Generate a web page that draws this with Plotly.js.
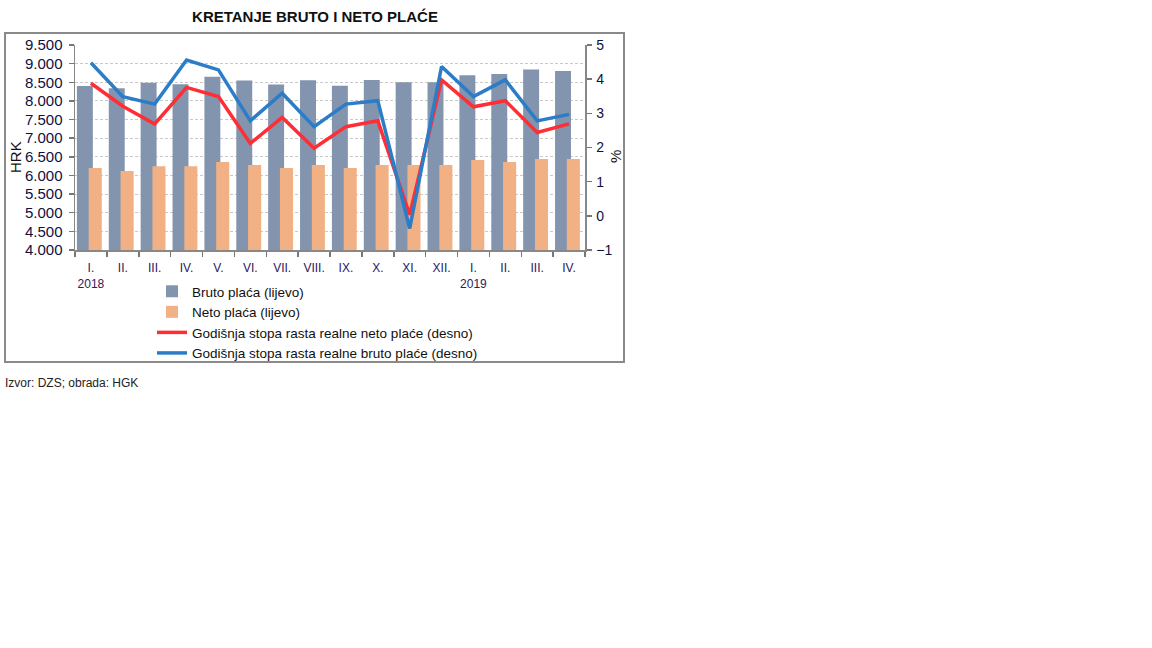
<!DOCTYPE html>
<html>
<head>
<meta charset="utf-8">
<script src="https://cdn.plot.ly/plotly-3.0.1.min.js"></script>
<style>
  html, body { margin: 0; padding: 0; background: #fff; }
  #chart { width: 1152px; height: 648px; }
</style>
</head>
<body>
<div id="chart"></div>
<script>
// ---- data ----
const monthKeys = ['2018-01','2018-02','2018-03','2018-04','2018-05','2018-06','2018-07','2018-08','2018-09','2018-10','2018-11','2018-12','2019-01','2019-02','2019-03','2019-04'];
const monthLabels = ['I.<br>2018','II.','III.','IV.','V.','VI.','VII.','VIII.','IX.','X.','XI.','XII.','I.<br>2019','II.','III.','IV.'];
const brutoPlaca = [8400, 8340, 8490, 8450, 8650, 8550, 8440, 8555, 8410, 8560, 8500, 8500, 8690, 8720, 8845, 8800];
const netoPlaca = [6200, 6120, 6250, 6250, 6360, 6280, 6200, 6280, 6200, 6280, 6280, 6280, 6415, 6360, 6440, 6440];
const stopaNeto = [3.88, 3.21, 2.69, 3.76, 3.49, 2.12, 2.88, 1.98, 2.61, 2.78, 0.03, 3.98, 3.19, 3.37, 2.44, 2.69];
const stopaBruto = [4.48, 3.49, 3.27, 4.56, 4.27, 2.78, 3.59, 2.61, 3.27, 3.37, -0.37, 4.37, 3.49, 3.98, 2.78, 2.97];
const leftTicks = [4000, 4500, 5000, 5500, 6000, 6500, 7000, 7500, 8000, 8500, 9000, 9500];
const rightTicks = [-1, 0, 1, 2, 3, 4, 5];

// ---- geometry helpers (pixels -> paper) ----
const PL = 75, PR = 585, PT = 45, PB = 250;
const px = x => (x - PL) / (PR - PL);
const py = y => (PB - y) / (PB - PT);

const fam = '"Liberation Sans", Arial, sans-serif';

const traces = [
  {
    type: 'bar', name: 'Bruto plaća (lijevo)', x: monthKeys, y: brutoPlaca,
    marker: { color: '#8394ae' }, width: 0.5, offset: -0.44, yaxis: 'y'
  },
  {
    type: 'bar', name: 'Neto plaća (lijevo)', x: monthKeys, y: netoPlaca,
    marker: { color: '#f2b185' }, width: 0.41, offset: -0.07, yaxis: 'y'
  },
  {
    type: 'scatter', mode: 'lines', name: 'Godišnja stopa rasta realne neto plaće (desno)',
    x: monthKeys, y: stopaNeto, yaxis: 'y2',
    line: { color: '#ff2e35', width: 3.5 }
  },
  {
    type: 'scatter', mode: 'lines', name: 'Godišnja stopa rasta realne bruto plaće (desno)',
    x: monthKeys, y: stopaBruto, yaxis: 'y2',
    line: { color: '#2a7dc6', width: 3.5 }
  }
];

const layout = {
  width: 1152, height: 648,
  paper_bgcolor: '#ffffff', plot_bgcolor: 'rgba(0,0,0,0)',
  margin: { l: PL, r: 1152 - PR, t: PT, b: 648 - PB, pad: 0 },
  barmode: 'overlay',
  separators: ',.',
  showlegend: true,
  title: {
    text: '<b>KRETANJE BRUTO I NETO PLAĆE</b>',
    x: 315 / 1152, xref: 'container', xanchor: 'center',
    y: 1 - 17 / 648, yref: 'container', yanchor: 'middle',
    font: { family: fam, size: 15, color: '#111' }
  },
  xaxis: {
    type: 'category', range: [-0.5, 15.5],
    tickmode: 'array', tickvals: monthKeys, ticktext: monthLabels, tickangle: 0,
    tickson: 'boundaries', ticks: 'outside', ticklen: 5, tickcolor: '#777', tickwidth: 1.5,
    showline: true, linecolor: '#888', linewidth: 1.5,
    showgrid: false, zeroline: false, ticklabelstandoff: 6,
    tickfont: { family: fam, size: 12, color: '#2a2060' },
    fixedrange: true
  },
  yaxis: {
    range: [4000, 9500], tickmode: 'array', tickvals: leftTicks, tickformat: ',d',
    ticks: 'outside', ticklen: 5, tickcolor: '#777', tickwidth: 1.5,
    showline: true, linecolor: '#888', linewidth: 1.5,
    showgrid: true, gridcolor: '#c9c9c9', gridwidth: 1, griddash: '3px,2px',
    zeroline: false, ticklabelstandoff: 3,
    tickfont: { family: fam, size: 15, color: '#101040' },
    fixedrange: true
  },
  yaxis2: {
    overlaying: 'y', side: 'right', range: [-1, 5], tickmode: 'array', tickvals: rightTicks,
    ticks: 'outside', ticklen: 5, tickcolor: '#777', tickwidth: 1.5,
    showline: true, linecolor: '#888', linewidth: 1.5,
    showgrid: false, zeroline: false, ticklabelstandoff: 2,
    tickfont: { family: fam, size: 14, color: '#101040' },
    fixedrange: true
  },
  legend: {
    x: px(152), y: py(276), xanchor: 'left', yanchor: 'top',
    bgcolor: 'rgba(0,0,0,0)', traceorder: 'normal',
    font: { family: fam, size: 13.5, color: '#111' },
    itemwidth: 30, tracegroupgap: 0
  },
  shapes: [
    { type: 'rect', xref: 'paper', yref: 'paper', x0: px(5), x1: px(624), y0: py(362), y1: py(33),
      line: { color: '#8a8a8a', width: 2 }, fillcolor: 'rgba(0,0,0,0)', layer: 'below' }
  ],
  annotations: [
    { text: 'HRK', xref: 'paper', yref: 'paper', x: px(15), y: py(157), textangle: -90,
      showarrow: false, xanchor: 'center', yanchor: 'middle',
      font: { family: fam, size: 15, color: '#111' } },
    { text: '%', xref: 'paper', yref: 'paper', x: px(615), y: py(157), textangle: -90,
      showarrow: false, xanchor: 'center', yanchor: 'middle',
      font: { family: fam, size: 15, color: '#111' } },
    { text: 'Izvor: DZS; obrada: HGK', xref: 'paper', yref: 'paper', x: px(3), y: py(383),
      showarrow: false, xanchor: 'left', yanchor: 'middle',
      font: { family: fam, size: 12, color: '#222' } }
  ]
};

Plotly.newPlot('chart', traces, layout, { displayModeBar: false, staticPlot: true });
</script>
</body>
</html>
